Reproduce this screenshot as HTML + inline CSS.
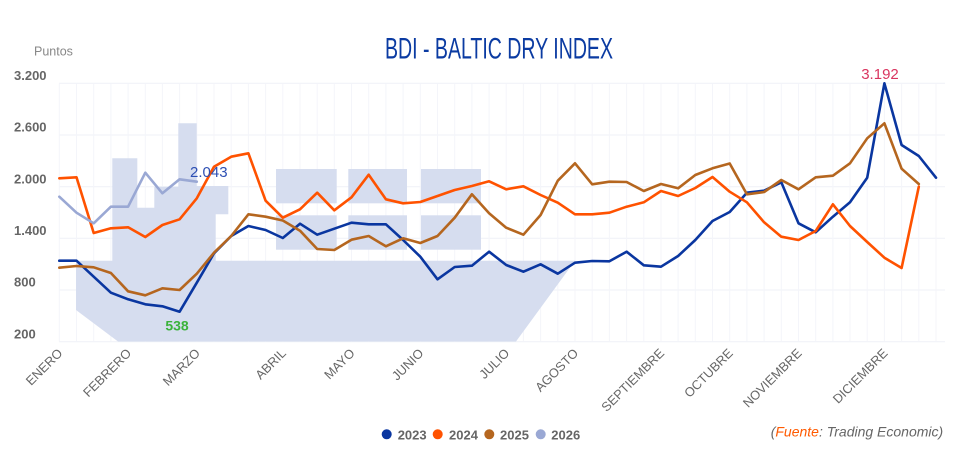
<!DOCTYPE html>
<html><head><meta charset="utf-8"><style>
html,body{margin:0;padding:0;background:#fff;}
svg{display:block;font-family:"Liberation Sans",sans-serif;}
</style></head><body>
<svg width="955" height="455" viewBox="0 0 955 455" xmlns="http://www.w3.org/2000/svg">
<rect width="955" height="455" fill="#fff"/>
<!-- title -->
<text x="385" y="58.3" font-size="30" fill="#0b3ba2" textLength="228" lengthAdjust="spacingAndGlyphs">BDI - BALTIC DRY INDEX</text>
<text x="34" y="55.5" font-size="12.5" fill="#888">Puntos</text>
<!-- gridlines -->
<g stroke="#eff1f7" stroke-width="1">
<line x1="59" y1="83.3" x2="945" y2="83.3"/>
<line x1="59" y1="135" x2="945" y2="135"/>
<line x1="59" y1="186.7" x2="945" y2="186.7"/>
<line x1="59" y1="238.3" x2="945" y2="238.3"/>
<line x1="59" y1="290" x2="945" y2="290"/>
<line x1="59" y1="341.7" x2="945" y2="341.7"/>
</g>
<g id="vg" stroke="#f4f5fa" stroke-width="1"></g>
<!-- watermark -->
<g fill="#d6ddef">
<polygon points="76,260.7 112.3,260.7 112.3,158.3 137.3,158.3 137.3,207.7 154.3,207.7 154.3,186.7 178.3,186.7 178.3,123.3 196.7,123.3 196.7,186 228.3,186 228.3,214.3 215.7,214.3 215.7,260.7 575,260.7 516,341.5 118,341.5 76,310"/>
<rect x="276" y="169" width="60.7" height="34.3"/>
<rect x="348.3" y="169" width="58.7" height="34.3"/>
<rect x="421" y="169" width="60" height="34.3"/>
<rect x="276" y="215.3" width="60.7" height="34.4"/>
<rect x="348.3" y="215.3" width="58.7" height="34.4"/>
<rect x="421" y="215.3" width="60" height="34.4"/>
</g>
<!-- y labels -->
<g font-size="13" font-weight="bold" fill="#666">
<text x="14" y="80">3.200</text>
<text x="14" y="131.7">2.600</text>
<text x="14" y="183.3">2.000</text>
<text x="14" y="235">1.400</text>
<text x="14" y="286.5">800</text>
<text x="14" y="338.3">200</text>
</g>
<!-- x labels -->
<g font-size="12.8" fill="#666" text-anchor="end">
<text transform="translate(63.3,354) rotate(-45)">ENERO</text>
<text transform="translate(132.1,354) rotate(-45)">FEBRERO</text>
<text transform="translate(200.8,354) rotate(-45)">MARZO</text>
<text transform="translate(286.8,354) rotate(-45)">ABRIL</text>
<text transform="translate(355.5,354) rotate(-45)">MAYO</text>
<text transform="translate(424.3,354) rotate(-45)">JUNIO</text>
<text transform="translate(510.2,354) rotate(-45)">JULIO</text>
<text transform="translate(579,354) rotate(-45)">AGOSTO</text>
<text transform="translate(665,354) rotate(-45)">SEPTIEMBRE</text>
<text transform="translate(733.7,354) rotate(-45)">OCTUBRE</text>
<text transform="translate(802.5,354) rotate(-45)">NOVIEMBRE</text>
<text transform="translate(888.4,354) rotate(-45)">DICIEMBRE</text>
</g>
<!-- series -->
<g fill="none" stroke-width="2.6" stroke-linejoin="round" stroke-linecap="round">
<polyline id="s23" stroke="#0a36a0" points=""/>
<polyline id="s24" stroke="#ff5200" points=""/>
<polyline id="s25" stroke="#b5661f" points=""/>
<polyline id="s26" stroke="#9aa8d4" points=""/>
</g>
<!-- data labels -->
<text x="190" y="177" font-size="15" fill="#2d4fb3">2.043</text>
<text x="177" y="330.5" font-size="14" font-weight="bold" fill="#3bb33b" text-anchor="middle">538</text>
<text x="880" y="79" font-size="15" fill="#d9345f" text-anchor="middle">3.192</text>
<!-- legend -->
<circle cx="386.7" cy="434.3" r="5" fill="#0a36a0"/>
<circle cx="437.7" cy="434.3" r="5" fill="#ff5200"/>
<circle cx="489.3" cy="434.3" r="5" fill="#b5661f"/>
<circle cx="540.7" cy="434.3" r="5" fill="#9aa8d4"/>
<g font-size="13" font-weight="bold" fill="#666">
<text x="397.7" y="439.3">2023</text>
<text x="449" y="439.3">2024</text>
<text x="500" y="439.3">2025</text>
<text x="551.3" y="439.3">2026</text>
</g>
<text x="770.7" y="436.5" font-size="14" font-style="italic" fill="#666">(<tspan fill="#ff5a00">Fuente</tspan>: Trading Economic)</text>
</svg>
<script>
(function(){
var X=function(i){return (59.3+17.19*i).toFixed(1);};
var vg=document.getElementById('vg');
for(var i=0;i<52;i++){var l=document.createElementNS('http://www.w3.org/2000/svg','line');l.setAttribute('x1',X(i));l.setAttribute('x2',X(i));l.setAttribute('y1','83.3');l.setAttribute('y2','341.7');vg.appendChild(l);}
var d={
s23:[260.7,260.7,276.7,292.7,299.3,304.3,306.3,311.7,282.7,253.3,236,226,230,238,223.7,234.7,228.7,222.7,224.3,224.3,240,256.7,279.3,267,265.7,251.7,265,271.7,264.3,273.7,262.7,261,261.3,251.7,265.3,266.7,256,240,221,212,192.7,190.7,182.3,223.3,232.3,216.7,202.3,177.7,83.3,145,156,177.7],
s24:[178.3,177.3,233,228.3,227.3,237,225,219.3,198.3,166.7,156.7,153.3,200.7,217.7,209.3,192.7,210.3,197.3,174.7,199.3,203.3,202,196,190,186,181.3,189.3,186.3,195,202.7,214.3,214.3,212.7,206.7,202.3,191,196,188,177,191.7,202.3,222.3,236.7,240,231,204.3,226,242,257.7,268,186.7],
s25:[267.7,266,267.3,273,291.3,295.3,288.3,290,273.7,252.7,236,214.3,216.7,220.5,230.7,249,250,239.7,236,246.3,238.3,243,236,217.7,194.3,213.3,227.7,234.7,215,180.7,163.3,184.3,181.7,182,191,184,188.3,175,168.3,163.5,194.3,192,180,189.3,177.3,175.7,163.3,138.3,123.3,168.7,184],
s26:[196.7,212.7,223.3,206.7,206.7,172.7,193.3,179.3,181.7]
};
for(var k in d){var p=[];for(var j=0;j<d[k].length;j++){p.push(X(j)+','+d[k][j]);}document.getElementById(k).setAttribute('points',p.join(' '));}
})();
</script>
</body></html>
